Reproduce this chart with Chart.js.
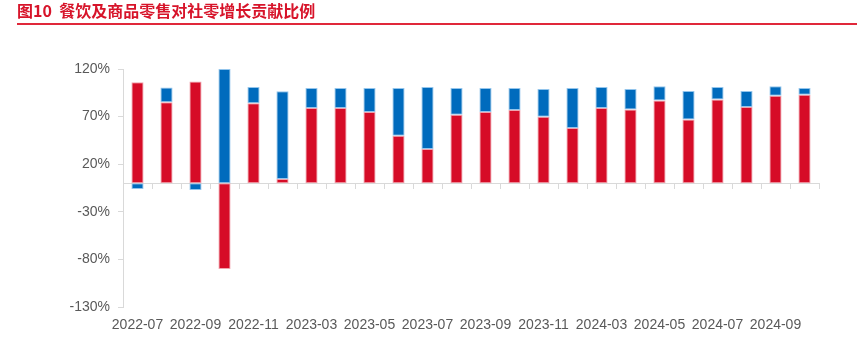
<!DOCTYPE html>
<html>
<head>
<meta charset="utf-8">
<script src="https://cdn.jsdelivr.net/npm/chart.js@4/dist/chart.umd.min.js"></script>
<style>
  body { margin: 0; background: #fff; }
  #wrap { position: relative; width: 857px; height: 364px; }
  #title {
    position: absolute; left: 17px; top: 2px;
    font: bold 16px "Noto Sans CJK SC", sans-serif; line-height: 17px;
    color: #D7142A; white-space: pre;
  }
  #rule { position: absolute; left: 17px; right: 0; top: 23px; height: 2px; background: #E0283A; }
  #chart { position: absolute; left: 0; top: 0; }
</style>
</head>
<body>
<div id="wrap">
  <canvas id="chart" width="857" height="364"></canvas>
  <div id="title">图10  餐饮及商品零售对社零增长贡献比例</div>
  <div id="rule"></div>
</div>
<script>
const months = [
    "2022-07", "2022-08", "2022-09", "2022-10", "2022-11", "2022-12",
    "2023-03", "2023-04", "2023-05", "2023-06", "2023-07", "2023-08",
    "2023-09", "2023-10", "2023-11", "2023-12",
    "2024-03", "2024-04", "2024-05", "2024-06", "2024-07", "2024-08",
    "2024-09", "2024-10"
];
// 商品零售 share (red)
const goodsShare = [106, 85, 107, -90, 84, 4.6, 79, 79, 75, 50, 36, 72, 75, 77, 70, 58, 79, 77.6, 87, 67, 88, 80, 92, 93];
// 餐饮收入 share (blue)
const cateringShare = [-6, 15.5, -7, 120, 17, 92, 21, 21, 25, 50, 65, 28, 25, 23, 29, 42, 22, 21.3, 15, 30, 13, 17, 10, 7];

const yMin = -130;
const yMax = 120;
const yStep = 50;

const axisGray = "#D9D9D9";
const textGray = "#595959";

new Chart(document.getElementById("chart"), {
    type: "bar",
    data: {
        labels: months,
        datasets: [
            {
                label: "商品零售",
                data: goodsShare,
                backgroundColor: "#D60C27",
                borderColor: "#EFA3AD",
                borderWidth: 1,
                borderSkipped: false,
                barPercentage: 0.42,
                categoryPercentage: 1,
            },
            {
                label: "餐饮收入",
                data: cateringShare,
                backgroundColor: "#006BBD",
                borderColor: "#93C5EC",
                borderWidth: 1,
                borderSkipped: false,
                barPercentage: 0.42,
                categoryPercentage: 1,
            },
        ],
    },
    options: {
        responsive: false,
        animation: false,
        layout: { padding: { left: 0, right: 38, top: 69, bottom: 20 } },
        plugins: {
            legend: { display: false },
            tooltip: { enabled: false },
        },
        scales: {
            x: {
                stacked: true,
                border: { display: false },
                grid: { display: false, drawTicks: false },
                ticks: {
                    autoSkip: false,
                    maxRotation: 0,
                    padding: 10,
                    color: textGray,
                    font: { family: "'Liberation Sans', Arial, sans-serif", size: 14 },
                    callback: (v, i) => (i % 2 === 0 ? months[i] : ""),
                },
            },
            xZero: {
                type: "category",
                position: { y: 0 },
                offset: true,
                border: { color: axisGray, width: 1 },
                grid: { offset: true, drawOnChartArea: false, tickLength: 5, color: axisGray },
                ticks: { display: false },
            },
            y: {
                stacked: true,
                min: yMin,
                max: yMax,
                afterFit: (scale) => { scale.width = 123; },
                border: { color: axisGray, width: 1 },
                grid: { drawOnChartArea: false, tickLength: 5, color: axisGray },
                ticks: {
                    stepSize: yStep,
                    padding: 8,
                    color: textGray,
                    font: { family: "'Liberation Sans', Arial, sans-serif", size: 14 },
                    callback: (v) => v + "%",
                },
            },
        },
    },
});
</script>
</body>
</html>
